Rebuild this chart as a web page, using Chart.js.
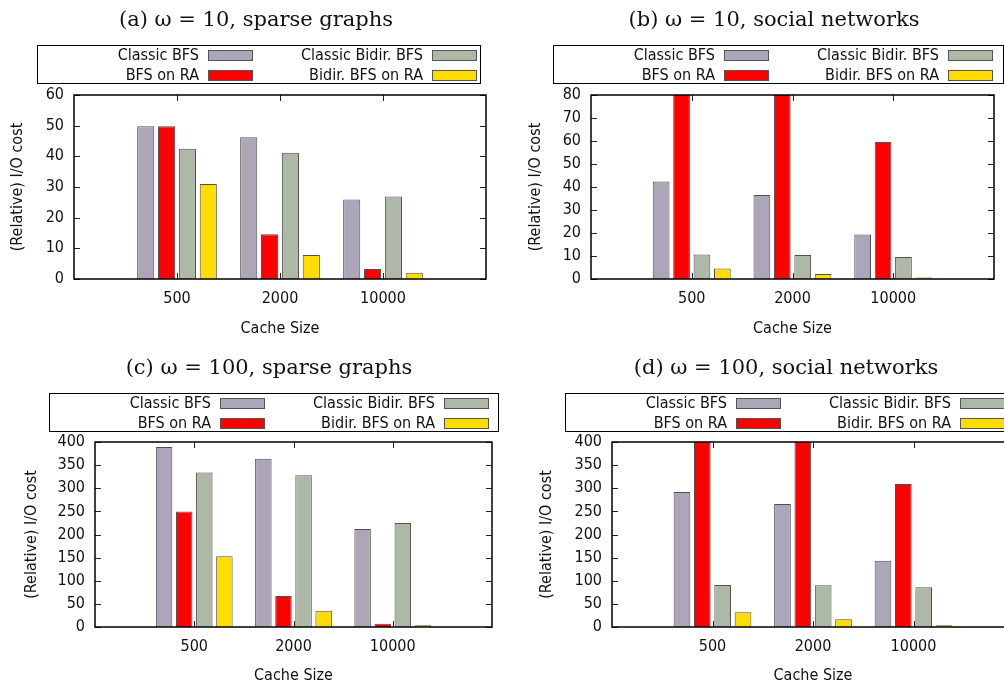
<!DOCTYPE html>
<html><head><meta charset="utf-8">
<script src="https://cdn.jsdelivr.net/npm/chart.js@4.4.0/dist/chart.umd.min.js"></script>
<style>
html,body{margin:0;padding:0;background:#fff;overflow:hidden;width:1004px;height:684px;position:relative;}
canvas{position:absolute;}
</style></head><body>
<canvas id="pa" width="502" height="347" style="left:0px;top:0px"></canvas>
<canvas id="pb" width="502" height="347" style="left:502px;top:0px"></canvas>
<canvas id="pc" width="502" height="347" style="left:0px;top:347px"></canvas>
<canvas id="pd" width="530" height="347" style="left:502px;top:347px"></canvas>
<script>
// ---------- data ----------
const categories = ['500', '2000', '10000'];
const seriesNames = ['Classic BFS', 'BFS on RA', 'Classic Bidir. BFS', 'Bidir. BFS on RA'];
const seriesColors = ['#ada6b8', '#ff0000', '#aeb8a7', '#ffdd00'];

// (a) omega = 10, sparse graphs
const aClassic  = [49.8, 46.2, 25.9];
const aRA       = [49.8, 14.6, 3.3];
const aBidir    = [42.5, 41.2, 26.9];
const aBidirRA  = [31.0, 7.8, 2.0];
const aYTicks   = [0, 10, 20, 30, 40, 50, 60];

// (b) omega = 10, social networks (BFS on RA exceeds the axis for 500 and 2000)
const bClassic  = [42.4, 36.5, 19.4];
const bRA       = [95, 90, 59.6];
const bBidir    = [10.7, 10.4, 9.6];
const bBidirRA  = [4.6, 2.2, 0.7];
const bYTicks   = [0, 10, 20, 30, 40, 50, 60, 70, 80];

// (c) omega = 100, sparse graphs
const cClassic  = [389, 364, 212];
const cRA       = [250, 67, 7];
const cBidir    = [334, 328, 225];
const cBidirRA  = [153, 35, 4];
const cYTicks   = [0, 50, 100, 150, 200, 250, 300, 350, 400];

// (d) omega = 100, social networks (BFS on RA exceeds the axis for 500 and 2000)
const dClassic  = [292, 266, 143];
const dRA       = [450, 430, 309];
const dBidir    = [91, 90.5, 86];
const dBidirRA  = [32, 17, 4];
const dYTicks   = [0, 50, 100, 150, 200, 250, 300, 350, 400];

// ---------- layout ----------
const SANS = "'DejaVu Sans Condensed', 'DejaVu Sans', sans-serif";
const SERIF = "'DejaVu Serif', 'Liberation Serif', serif";
const TXT = '#111';

const panels = [
  {id: 'pa', title: '(a) \u03c9 = 10, sparse graphs', series: [aClassic, aRA, aBidir, aBidirRA], yTicks: aYTicks,
   area: {l: 74, r: 486, t: 95, b: 279}, titleX: 256, titleY: 21, yTitleX: 18, legendL: 37, legendT: 45, legendW: 443},
  {id: 'pb', title: '(b) \u03c9 = 10, social networks', series: [bClassic, bRA, bBidir, bBidirRA], yTicks: bYTicks,
   area: {l: 89, r: 501, t: 95, b: 279}, titleX: 272, titleY: 21, yTitleX: 34, legendL: 51, legendT: 45, legendW: 450},
  {id: 'pc', title: '(c) \u03c9 = 100, sparse graphs', series: [cClassic, cRA, cBidir, cBidirRA], yTicks: cYTicks,
   area: {l: 95, r: 498, t: 95, b: 280}, titleX: 269, titleY: 22, yTitleX: 32, legendL: 49, legendT: 46, legendW: 449},
  {id: 'pd', title: '(d) \u03c9 = 100, social networks', series: [dClassic, dRA, dBidir, dBidirRA], yTicks: dYTicks,
   area: {l: 110, r: 512, t: 95, b: 280}, titleX: 284, titleY: 22, yTitleX: 45, legendL: 63, legendT: 46, legendW: 452}
];

function makePlugin(p) {
  return {
    id: 'gnuplotDecor',
    beforeDatasetsDraw(chart) {
      const ctx = chart.ctx, a = chart.chartArea;
      const xs = chart.scales.x, ys = chart.scales.y;
      ctx.save();
      ctx.strokeStyle = '#222';
      ctx.lineWidth = 1;
      ctx.beginPath();
      ys.ticks.forEach(t => {
        const y = Math.round(ys.getPixelForValue(t.value)) + 0.5;
        ctx.moveTo(a.left, y); ctx.lineTo(a.left + 6, y);
        ctx.moveTo(a.right - 6, y); ctx.lineTo(a.right, y);
      });
      categories.forEach((c, i) => {
        const x = Math.round(xs.getPixelForValue(i + 1)) + 0.5;
        ctx.moveTo(x, a.top); ctx.lineTo(x, a.top + 6);
        ctx.moveTo(x, a.bottom); ctx.lineTo(x, a.bottom - 6);
      });
      ctx.stroke();
      ctx.restore();
    },
    afterDatasetsDraw(chart) {
      const ctx = chart.ctx, a = chart.chartArea;
      ctx.save();
      ctx.strokeStyle = '#000';
      ctx.lineWidth = 1.5;
      ctx.strokeRect(a.left, a.top, a.right - a.left, a.bottom - a.top);
      ctx.restore();
    },
    afterDraw(chart) {
      const ctx = chart.ctx;
      ctx.save();
      // title
      ctx.fillStyle = TXT;
      ctx.font = "21px " + SERIF;
      ctx.textAlign = 'center';
      ctx.textBaseline = 'middle';
      ctx.fillText(p.title, p.titleX, p.titleY);
      // legend frame
      const L = p.legendL, T = p.legendT;
      ctx.strokeStyle = '#000';
      ctx.lineWidth = 1;
      ctx.strokeRect(L + 0.5, T + 0.5, p.legendW, 38);
      // legend entries (column-major, like gnuplot)
      ctx.font = "16px " + SANS;
      ctx.textAlign = 'right';
      const colText = [L + 162, L + 386];
      const colBox = [L + 171, L + 395];
      const rowY = [T + 10, T + 30];
      chart.data.datasets.forEach((ds, i) => {
        const col = Math.floor(i / 2), row = i % 2;
        ctx.fillStyle = TXT;
        ctx.fillText(ds.label, colText[col], rowY[row] + 1);
        ctx.fillStyle = ds.backgroundColor;
        ctx.fillRect(colBox[col], rowY[row] - 5, 44, 10);
        ctx.strokeStyle = '#555';
        ctx.strokeRect(colBox[col] + 0.5, rowY[row] - 5 + 0.5, 44, 10);
      });
      ctx.restore();
    }
  };
}

panels.forEach(p => {
  const canvas = document.getElementById(p.id);
  const W = canvas.width, H = canvas.height;
  const labels = ['', ...categories, ''];
  new Chart(canvas, {
    type: 'bar',
    data: {
      labels: labels,
      datasets: seriesNames.map((name, i) => ({
        label: name,
        data: [null, ...p.series[i], null],
        backgroundColor: seriesColors[i],
        borderColor: '#505050',
        borderWidth: 1,
        borderSkipped: 'start',
        categoryPercentage: 0.81,
        barPercentage: 0.82,
        clip: 0
      }))
    },
    options: {
      responsive: false,
      animation: false,
      devicePixelRatio: 1,
      layout: {padding: {left: 0, top: p.area.t, right: W - p.area.r, bottom: 0}},
      plugins: {legend: {display: false}, title: {display: false}, tooltip: {enabled: false}},
      scales: {
        x: {
          type: 'category',
          offset: false,
          grid: {display: false, drawTicks: false},
          border: {display: false},
          ticks: {autoSkip: false, maxRotation: 0, padding: 10, color: TXT, font: {family: SANS, size: 16}},
          title: {display: true, text: 'Cache Size', color: TXT, font: {family: SANS, size: 16}, padding: {top: 0, bottom: 9}},
          afterFit: s => { s.height = H - p.area.b; }
        },
        y: {
          min: p.yTicks[0],
          max: p.yTicks[p.yTicks.length - 1],
          afterBuildTicks: s => { s.ticks = p.yTicks.map(v => ({value: v})); },
          grid: {display: false, drawTicks: false},
          border: {display: false},
          ticks: {padding: 10, color: TXT, font: {family: SANS, size: 16}},
          title: {display: true, text: '(Relative) I/O cost', color: TXT, font: {family: SANS, size: 16}, padding: {top: p.yTitleX - 9.6, bottom: 0}},
          afterFit: s => { s.width = p.area.l; }
        }
      }
    },
    plugins: [makePlugin(p)]
  });
});
</script>
</body></html>
